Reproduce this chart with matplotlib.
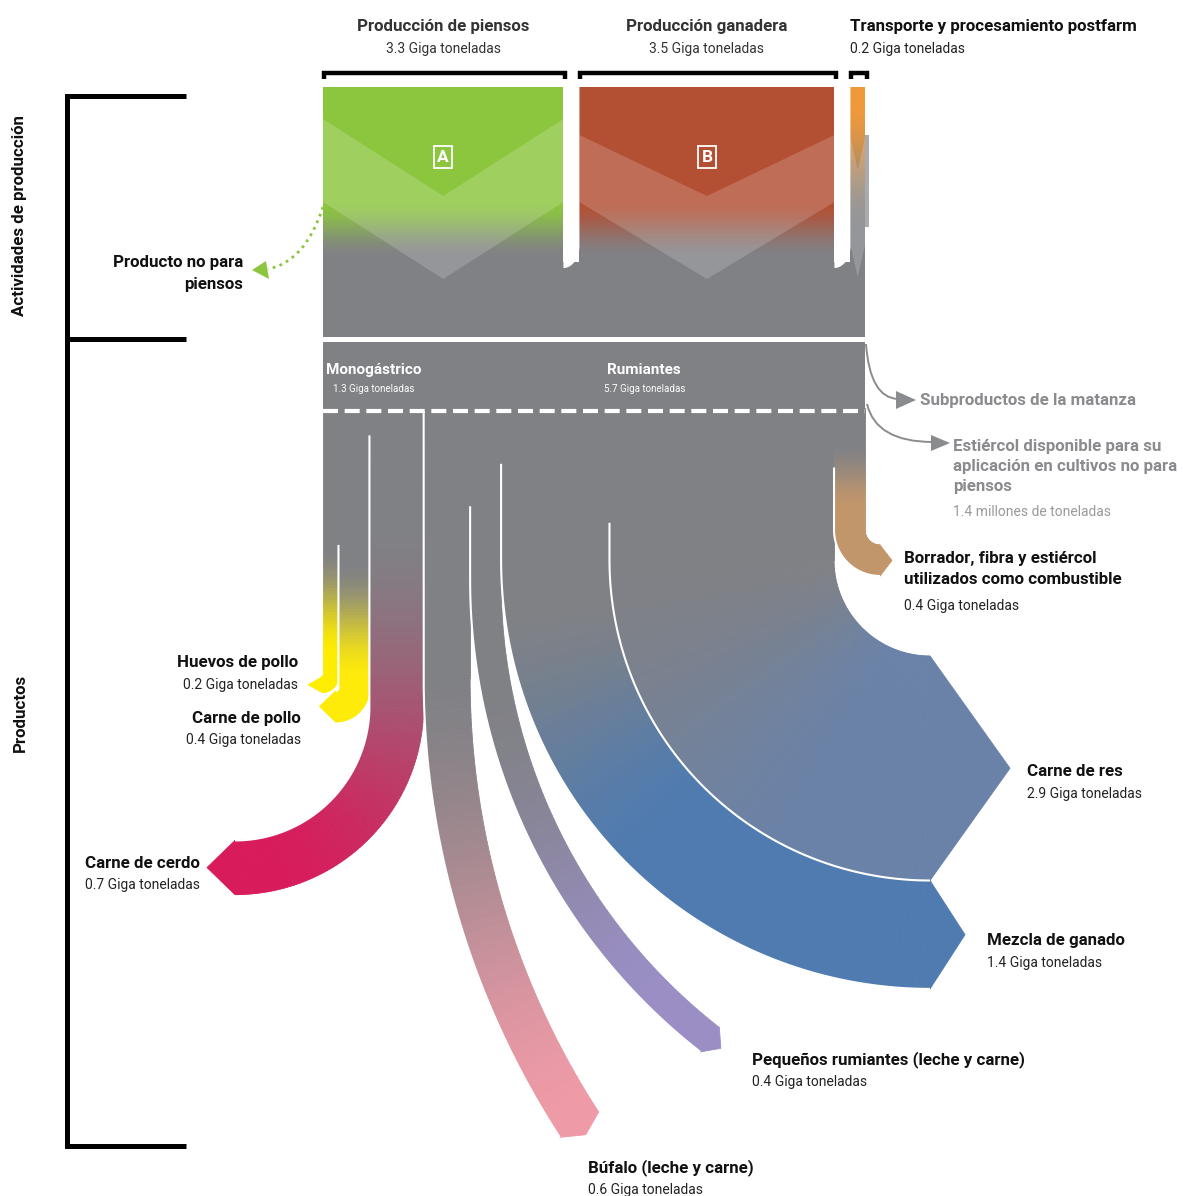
import numpy as np
import matplotlib
matplotlib.use("Agg")
import matplotlib.pyplot as plt
from matplotlib.patches import Polygon, Rectangle
from matplotlib.collections import PolyCollection
from matplotlib.path import Path
from matplotlib.patches import PathPatch
from matplotlib.colors import to_rgb

plt.rcParams["font.family"] = ["Roboto", "DejaVu Sans"]

# ---- data -------------------------------------------------------------
stages = ["Producción de piensos", "Producción ganadera", "Transporte y procesamiento postfarm"]
stage_values = [3.3, 3.5, 0.2]
stage_colors = ["#8CC63F", "#B35034", "#F0993A"]
stage_tags = ["A", "B", None]

groups = ["Monogástrico", "Rumiantes"]
group_values = [1.3, 5.7]

products = ["Huevos de pollo", "Carne de pollo", "Carne de cerdo",
            "Búfalo (leche y carne)", "Pequeños rumiantes (leche y carne)",
            "Mezcla de ganado", "Carne de res",
            "Borrador, fibra y estiércol\nutilizados como combustible"]
product_values = [0.2, 0.4, 0.7, 0.6, 0.4, 1.4, 2.9, 0.4]
product_colors = ["#FFED00", "#FFEB0A", "#D81B5A", "#EF9AA7",
                  "#9A8EC4", "#4F7BB0", "#6A82A8", "#C1966A"]

unit = "Giga toneladas"
side_outputs = ["Subproductos de la matanza",
                "Estiércol disponible para su\naplicación en cultivos no para\npiensos"]
manure_note = "1.4 millones de toneladas"
non_feed = "Producto no para\npiensos"

# ---- layout -----------------------------------------------------------
W, H = 1183, 1196
X0, X1 = 323, 865
GRAY = to_rgb("#808185")
k = (X1 - X0) / sum(product_values)
BOLD = 12.2

# per-product flow shape: turn side, bend centre, sweep, arrow tip, gradient range
flow_side = ["L", "L", "L", "R", "R", "R", "R", "R"]
flow_cx = [322, 335.5, 235, 1267, 1069, 930, 930, 880]
flow_cy = [676, 688, 706, 678, 580, 560, 560, 530]
flow_sweep = [90, 90, 90, 33, 52, 90, 90, 90]
flow_tip = [14, 16, 28, 12, 14, 35, 80, 12]
flow_sep = [None, 543, 433, 410, 505, 463, 520, 465]
flow_grad = [(0.5, 0.88), (0.5, 0.88), (0.2, 0.95), (0.35, 1.0),
             (0.4, 0.92), (0.25, 0.62), (0.3, 0.85), (0.2, 0.6)]
label_pos = [(298, 663, "right"), (301, 718, "right"), (200, 863, "right"),
             (588, 1168, "left"), (752, 1060, "left"), (987, 941, "left"),
             (1027, 772, "left"), (904, 559, "left")]


def mix(c1, c2, t):
    return tuple(np.array(c1) * (1 - t) + np.array(c2) * t)


def smooth(t):
    t = np.clip(t, 0, 1)
    return t * t * (3 - 2 * t)


fig = plt.figure(figsize=(W / 100, H / 100), dpi=100)
ax = fig.add_axes([0, 0, 1, 1])


def vgrad(x0, x1, y0, y1, c_top, c_bot, g0, g1, z=2):
    ys = np.arange(y0, y1, 1.0)
    quads, cols = [], []
    for y in ys:
        c = mix(to_rgb(c_top), c_bot, smooth((y - g0) / (g1 - g0)))
        quads.append([(x0, y), (x1, y), (x1, y + 1.2), (x0, y + 1.2)])
        cols.append(c)
    ax.add_collection(PolyCollection(quads, facecolors=cols, edgecolors="none", zorder=z))


def draw_flow(xl, xr, y0, side, cx, cy, sweep, tip, col, t0, t1):
    ys = np.linspace(y0, cy, max(int((cy - y0) / 3), 2))
    L = [(xl, y) for y in ys]
    R = [(xr, y) for y in ys]
    ph = np.radians(np.linspace(0, sweep, 90))[1:]
    if side == "R":
        ro, ri = cx - xl, cx - xr
        L += list(zip(cx - ro * np.cos(ph), cy + ro * np.sin(ph)))
        R += list(zip(cx - ri * np.cos(ph), cy + ri * np.sin(ph)))
        d = np.array([np.sin(ph[-1]), np.cos(ph[-1])])
    else:
        ri, ro = xl - cx, xr - cx
        L += list(zip(cx + ri * np.cos(ph), cy + ri * np.sin(ph)))
        R += list(zip(cx + ro * np.cos(ph), cy + ro * np.sin(ph)))
        d = np.array([-np.sin(ph[-1]), np.cos(ph[-1])])
    L, R = np.array(L), np.array(R)
    mid = (L + R) / 2
    s = np.concatenate([[0], np.cumsum(np.hypot(*np.diff(mid, axis=0).T))])
    t = s / s[-1]
    tc = (t[:-1] + t[1:]) / 2
    quads = [[L[i], L[i + 1], R[i + 1], R[i]] for i in range(len(L) - 1)]
    cols = [mix(GRAY, to_rgb(col), smooth((x - t0) / (t1 - t0))) for x in tc]
    ax.add_collection(PolyCollection(quads, facecolors=cols, edgecolors=cols,
                                     linewidths=0.6, zorder=3))
    tp = (L[-1] + R[-1]) / 2 + d * tip
    ax.add_patch(Polygon([L[-1], tp, R[-1]], closed=True, fc=cols[-1],
                         ec=cols[-1], lw=0.6, zorder=3))
    return L


# ---- top stage boxes --------------------------------------------------
gap = 16
ktop = (X1 - X0 - gap * (len(stages) - 1)) / sum(stage_values)
bx = X0
chev = [(119, 196, 202, 279), (135, 196, 202, 279), (137, 170, 245, 277)]
for i, (name, v, c) in enumerate(zip(stages, stage_values, stage_colors)):
    w = v * ktop
    x0, x1 = bx, bx + w
    g = (200, 258) if i < 2 else (100, 225)
    vgrad(x0, x1, 87, 272, c, GRAY, *g)
    a, b, cbot, dbot = chev[i]
    xm = (x0 + x1) / 2
    ax.add_patch(Polygon([(x0, a), (xm, b), (x1, a), (x1, cbot), (xm, dbot), (x0, cbot)],
                         closed=True, fc="white", alpha=0.17, ec="none", zorder=4))
    # bracket
    ax.plot([x0 + 1, x0 + 1, x1 + 2, x1 + 2], [79, 73, 73, 79], color="black",
            lw=3.2, solid_joinstyle="miter", solid_capstyle="butt", zorder=5)
    sub = f"{v} {unit}"
    if i < 2:
        ax.text(xm, 27, name, ha="center", va="center", fontsize=BOLD,
                fontweight="bold", color="#333333")
        ax.text(xm, 49, sub, ha="center", va="center", fontsize=10, color="#333333")
    else:
        ax.text(x0, 27, name, ha="left", va="center", fontsize=BOLD,
                fontweight="bold", color="#111111")
        ax.text(x0, 49, sub, ha="left", va="center", fontsize=10, color="#222222")
    if stage_tags[i]:
        ax.text(xm, 157, stage_tags[i], ha="center", va="center", fontsize=12.5,
                fontweight="bold", color="white", zorder=6,
                bbox=dict(boxstyle="square,pad=0.18", fc="none", ec="white", lw=1.3))
    if i < len(stages) - 1:
        # white gap with rounded foot between neighbouring boxes
        ph = np.radians(np.linspace(0, 90, 30))
        arc = list(zip(x1 + gap * np.cos(ph), 246 + 22 * np.sin(ph)))
        ax.add_patch(Polygon([(x1, 87), (x1 + gap, 87)] + arc + [(x1, 268)],
                             closed=True, fc="white", ec="none", zorder=4.5))
    bx = x1 + gap

ax.add_patch(Rectangle((X1, 135), 4, 92, fc="#A9ABAE", ec="none", zorder=2))
ax.add_patch(Rectangle((X0, 262), X1 - X0, 75, fc=GRAY, ec="none", zorder=1.9))
ax.add_patch(Rectangle((X0, 342), X1 - X0, 72, fc=GRAY, ec="none", zorder=2))

# ---- group labels -------------------------------------------------------
gx = X0
for name, v in zip(groups, group_values):
    cxg = gx + v * k / 2
    ax.text(cxg, 370, name, ha="center", va="center", fontsize=11,
            fontweight="bold", color="white", zorder=6)
    ax.text(cxg, 389, f"{v} {unit}", ha="center", va="center", fontsize=7,
            color="white", zorder=6)
    gx += v * k

# ---- product flows ------------------------------------------------------
edges = []
xl = X0
for i, v in enumerate(product_values):
    xr = xl + v * k
    Ledge = draw_flow(xl, xr, 408, flow_side[i], flow_cx[i], flow_cy[i],
                      flow_sweep[i], flow_tip[i], product_colors[i], *flow_grad[i])
    edges.append(Ledge)
    xl = xr

for Ledge, sy in zip(edges, flow_sep):
    if sy is None:
        continue
    m = Ledge[:, 1] >= sy
    ax.plot(Ledge[m, 0], Ledge[m, 1], color="white", lw=1.5, zorder=5,
            solid_capstyle="butt")

ax.plot([X0, X1], [411, 411], color="white", lw=3, dashes=(3.6, 1.6), zorder=6)

# product labels
for i, (name, v) in enumerate(zip(products, product_values)):
    x, y, ha = label_pos[i]
    lines = name.split("\n")
    for j, ln in enumerate(lines):
        ax.text(x, y + 21 * j, ln, ha=ha, va="center", fontsize=BOLD,
                fontweight="bold", color="#111111")
    yv = y + 21 * (len(lines) - 1) + (26 if len(lines) > 1 else 22)
    ax.text(x, yv, f"{v} {unit}", ha=ha, va="center", fontsize=10, color="#222222")

# ---- side arrows --------------------------------------------------------
def curve_arrow(p0, p1, p2, tip, base_a, base_b, color, ls="-", lw=1.4):
    path = Path([p0, p1, p2], [Path.MOVETO, Path.CURVE3, Path.CURVE3])
    ax.add_patch(PathPatch(path, fc="none", ec=color, lw=lw, linestyle=ls, zorder=5))
    ax.add_patch(Polygon([base_a, tip, base_b], closed=True, fc=color, ec="none", zorder=5))


side_gray = "#8A8B8E"
curve_arrow((866, 344), (870, 398), (898, 399), (916, 400), (896, 391), (896, 409), side_gray)
curve_arrow((867, 404), (876, 442), (933, 442), (950, 443), (931, 435), (931, 451), side_gray)
ax.text(920, 401, side_outputs[0], ha="left", va="center", fontsize=BOLD,
        fontweight="bold", color=side_gray)
for j, ln in enumerate(side_outputs[1].split("\n")):
    ax.text(953, 446 + 20.5 * j, ln, ha="left", va="center", fontsize=BOLD,
            fontweight="bold", color=side_gray)
ax.text(953, 512, manure_note, ha="left", va="center", fontsize=10, color="#9A9A9C")

curve_arrow((323, 207), (305, 262), (268, 269), (252, 270), (266, 261), (269, 279),
            "#8CC63F", ls=(0, (1, 1.6)), lw=2)
for j, ln in enumerate(non_feed.split("\n")):
    ax.text(243, 263 + 21 * j, ln, ha="right", va="center", fontsize=BOLD,
            fontweight="bold", color="#111111")

# ---- left brackets --------------------------------------------------------
ax.plot([186, 67, 67, 186], [96, 96, 339, 339], color="black", lw=3.6,
        solid_joinstyle="miter", solid_capstyle="butt")
ax.plot([67, 67, 186], [339, 1146, 1146], color="black", lw=3.6,
        solid_joinstyle="miter", solid_capstyle="butt")
ax.text(20, 216, "Actividades de producción", rotation=90, ha="center", va="center",
        fontsize=BOLD, fontweight="bold", color="#111111")
ax.text(20, 713, "Productos", rotation=90, ha="center", va="center",
        fontsize=BOLD, fontweight="bold", color="#111111")

ax.set_xlim(0, W)
ax.set_ylim(H, 0)
ax.axis("off")
fig.savefig("out.png", dpi=100, facecolor="white")
